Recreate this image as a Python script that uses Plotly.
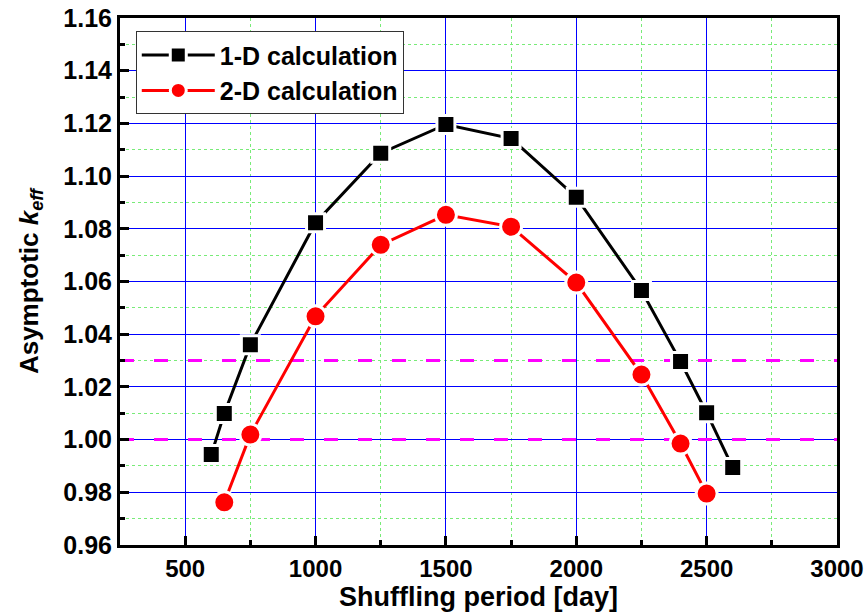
import plotly.graph_objects as go

period_1d = [600, 650, 750, 1000, 1250, 1500, 1750, 2000, 2250, 2400, 2500, 2600]
keff_1d = [0.9943, 1.0099, 1.036, 1.0823, 1.1087, 1.1196, 1.1143, 1.092, 1.0566, 1.0296, 1.0102, 0.9894]
period_2d = [650, 750, 1000, 1250, 1500, 1750, 2000, 2250, 2400, 2500]
keff_2d = [0.9762, 1.0019, 1.0468, 1.0739, 1.0853, 1.0808, 1.0596, 1.0247, 0.9985, 0.9795]
thresholds = [1.00, 1.03]
x_range = [250, 3000]
y_range = [0.96, 1.16]
x_ticks = [500, 1000, 1500, 2000, 2500, 3000]
y_ticks = [0.96, 0.98, 1.00, 1.02, 1.04, 1.06, 1.08, 1.10, 1.12, 1.14, 1.16]
y_labels = ["0.96", "0.98", "1.00", "1.02", "1.04", "1.06", "1.08", "1.10", "1.12", "1.14", "1.16"]

FONT = "Liberation Sans, Arial, sans-serif"
BLUE = "rgb(0,0,255)"
GREEN = "rgb(120,235,120)"

fig = go.Figure()
for t in thresholds:
    fig.add_trace(go.Scatter(
        x=x_range, y=[t, t], mode="lines", showlegend=False, hoverinfo="skip",
        line=dict(color="#ff00ff", width=3, dash="14px,20px"),
    ))
fig.add_trace(go.Scatter(
    x=period_1d, y=keff_1d, mode="lines+markers", name="1-D calculation",
    line=dict(color="black", width=3),
    marker=dict(symbol="square", size=18, color="black", line=dict(color="white", width=3)),
))
fig.add_trace(go.Scatter(
    x=period_2d, y=keff_2d, mode="lines+markers", name="2-D calculation",
    line=dict(color="red", width=3),
    marker=dict(symbol="circle", size=21, color="red", line=dict(color="white", width=3)),
))

fig.update_layout(
    width=867, height=615,
    margin=dict(l=120, r=30, t=18, b=70, autoexpand=False),
    paper_bgcolor="white", plot_bgcolor="white",
    showlegend=True,
    legend=dict(
        x=0.022, y=0.975, xanchor="left", yanchor="top",
        bgcolor="white", bordercolor="#333333", borderwidth=1,
        font=dict(family=FONT, size=25, color="black", weight="bold"),
        itemwidth=73, tracegroupgap=0,
    ),
)
fig.update_xaxes(
    range=x_range, tickvals=x_ticks, automargin=False,
    showline=True, linecolor="black", linewidth=3, mirror=True,
    ticks="inside", ticklen=9, tickwidth=3, tickcolor="black",
    showgrid=True, gridcolor=BLUE, gridwidth=1,
    zeroline=False, ticklabeloverflow="allow",
    tickfont=dict(family=FONT, size=24, color="black", weight="bold"),
    title=dict(text="Shuffling period [day]", font=dict(family=FONT, size=27, color="black", weight="bold"), standoff=5),
    minor=dict(dtick=250, tick0=0, ticks="inside", ticklen=5, tickwidth=3, tickcolor="black",
               showgrid=True, gridcolor=GREEN, gridwidth=1, griddash="dot"),
)
fig.update_yaxes(
    range=y_range, tickvals=y_ticks, ticktext=y_labels, automargin=False,
    showline=True, linecolor="black", linewidth=3, mirror=True,
    ticks="inside", ticklen=9, tickwidth=3, tickcolor="black",
    showgrid=True, gridcolor=BLUE, gridwidth=1,
    zeroline=False, ticklabeloverflow="allow",
    tickfont=dict(family=FONT, size=25, color="black", weight="bold"),
    title=dict(text="Asymptotic <i>k</i><sub><i>eff</i></sub>", font=dict(family=FONT, size=26, color="black", weight="bold"), standoff=18),
    minor=dict(dtick=0.01, tick0=0.95, ticks="inside", ticklen=5, tickwidth=3, tickcolor="black",
               showgrid=True, gridcolor=GREEN, gridwidth=1, griddash="dot"),
)

fig.write_html(
    "out.html",
    config={"displayModeBar": False},
    post_script="document.body.style.margin='0';document.body.style.overflow='hidden';",
)
